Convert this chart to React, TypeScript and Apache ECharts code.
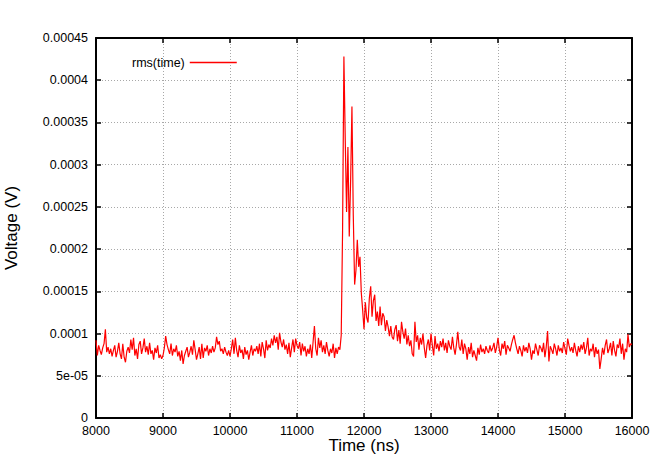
import React, { useEffect, useRef } from "react";
import * as echarts from "echarts";

// Time axis (ns): samples every 20 ns from 8000 to 16000
const tStart = 8000;
const tStep = 20;

// rms voltage, in units of 1e-5 V
const rmsE5: number[] = [
  9.2, 7.4, 8.6, 8.0, 7.5, 8.3, 8.8, 10.5, 7.8, 8.4,
  7.6, 8.2, 7.3, 8.0, 8.6, 7.2, 7.9, 8.9, 7.6, 7.0,
  8.8, 7.2, 6.6, 7.9, 8.4, 7.7, 9.3, 8.1, 9.5, 7.4,
  8.2, 7.0, 8.7, 9.1, 7.6, 8.3, 9.4, 7.8, 8.5, 7.5,
  8.9, 7.6, 8.0, 6.9, 8.3, 7.7, 8.6, 7.1, 7.5, 7.0,
  7.4, 8.3, 9.7, 8.7, 8.1, 7.6, 8.8, 7.4, 8.2, 7.8,
  8.6, 7.3, 7.9, 6.8, 8.0, 6.4, 7.4, 7.9, 8.4, 7.2,
  7.8, 8.5, 7.5, 9.2, 8.1, 6.9, 7.6, 8.4, 7.0, 8.8,
  7.1, 8.3, 7.9, 8.6, 7.4, 8.2, 7.7, 8.5, 7.8, 8.3,
  9.6, 8.7, 9.1, 7.9, 8.2, 7.6, 8.4, 7.8, 7.4, 8.0,
  7.3, 8.2, 9.3, 7.6, 9.5, 8.0, 7.2, 8.6, 7.7, 8.1,
  7.0, 8.4, 7.5, 8.0, 6.9, 7.8, 8.6, 7.4, 8.2, 7.9,
  8.5, 7.6, 8.8, 7.3, 9.0, 8.2, 7.1, 9.2, 8.0, 8.7,
  8.3, 9.4, 8.6, 9.8, 8.9, 9.6, 8.1, 10.1, 9.0, 8.4,
  9.3, 8.1, 8.7, 7.6, 8.9, 7.2, 8.3, 9.3, 7.8, 9.4,
  8.6, 8.2, 9.0, 7.4, 8.8, 7.9, 8.5, 7.3, 8.2, 7.6,
  8.7, 7.1, 9.0, 10.9, 8.2, 7.4, 9.5, 8.3, 9.2, 7.8,
  8.6, 7.6, 9.0, 8.0, 7.3, 8.2, 7.7, 8.8, 7.1, 8.3,
  7.6, 8.4, 8.1, 9.8, 22.0, 42.8, 33.0, 24.4, 32.1, 21.5,
  28.0, 36.9, 24.0, 15.8, 17.5, 21.1, 17.9, 19.1, 14.8, 12.8,
  10.5, 13.7, 11.9, 11.3, 14.2, 15.6, 12.0, 13.9, 14.6, 11.5,
  12.6, 10.9, 13.2, 11.0, 12.4, 12.0, 10.3, 11.6, 10.8, 9.7,
  10.9, 9.6, 9.3, 10.5, 11.0, 9.1, 10.4, 8.8, 11.4, 10.2,
  9.4, 10.6, 8.7, 9.8, 8.5, 9.2, 7.6, 7.3, 11.4, 9.0,
  9.8, 8.1, 9.5, 8.7, 10.0, 8.3, 7.1, 8.6, 9.3, 8.0,
  10.0, 8.6, 7.4, 9.7, 8.2, 8.8, 7.9, 9.1, 8.4, 9.4,
  8.0, 8.9, 7.7, 9.2, 8.5, 8.1, 9.6, 8.3, 7.5, 8.7,
  10.2, 8.4, 8.0, 9.3, 7.6, 8.8, 8.2, 6.9, 8.4, 7.6,
  8.9, 7.2, 8.0, 7.4, 6.8, 8.3, 7.5, 8.7, 7.8, 8.2,
  7.6, 8.5, 8.0, 7.7, 8.6, 7.9, 8.3, 8.9, 7.7, 8.4,
  9.5, 8.1, 7.4, 8.8, 8.2, 9.1, 7.5, 8.6, 8.3, 7.9,
  8.7, 9.3, 9.8, 8.9, 8.2, 7.6, 8.5, 8.0, 7.3, 8.6,
  7.9, 8.4, 7.7, 8.9, 8.2, 6.9, 8.0, 7.6, 8.8, 8.1,
  7.4, 8.6, 8.3, 7.8, 8.9, 7.2, 8.4, 10.3, 6.7, 8.5,
  8.1, 7.6, 8.8, 8.2, 7.4, 8.6, 7.9, 8.3, 7.7, 9.0,
  8.2, 7.5, 9.4, 8.6, 7.9, 8.4, 7.7, 8.9, 8.0, 7.3,
  8.5, 7.8, 8.7, 8.1, 9.0, 7.6, 8.3, 9.5, 7.4, 8.2,
  7.9, 8.8, 7.2, 8.4, 7.6, 8.1, 5.8, 7.0, 8.3, 7.5,
  8.6, 9.3, 7.7, 8.2, 8.9, 7.4, 9.1, 8.0, 7.3, 8.7,
  8.3, 9.4, 7.6, 8.8, 6.9, 8.2, 7.8, 9.9, 8.4, 8.8,
  8.7,
];

const xTicks = [8000, 9000, 10000, 11000, 12000, 13000, 14000, 15000, 16000];
const yTickLabels = [
  "0", "5e-05", "0.0001", "0.00015", "0.0002",
  "0.00025", "0.0003", "0.00035", "0.0004", "0.00045",
];
const yStep = 0.00005;
const seriesName = "rms(time)";

const FONT = "'Liberation Sans', Arial, Helvetica, sans-serif";

export default function App() {
  const ref = useRef<HTMLDivElement>(null);

  useEffect(() => {
    if (!ref.current) return;
    const chart = echarts.init(ref.current, undefined, { renderer: "svg" });
    const data = rmsE5.map((v, i) => [tStart + i * tStep, v * 1e-5]);
    const xMin = xTicks[0];
    const xMax = xTicks[xTicks.length - 1];
    const xInt = xTicks[1] - xTicks[0];
    const yMax = yStep * (yTickLabels.length - 1);
    const yFmt = (v: number) => {
      const idx = Math.round(v / yStep);
      return yTickLabels[idx] ?? "";
    };
    const xFmt = (v: number) => String(Math.round(v));
    const gridLine = {
      show: true,
      lineStyle: { color: "#a8a8a8", width: 1, type: [1, 2] as number[] },
    };
    const axisLine = { show: true, onZero: false, lineStyle: { color: "#000", width: 2 } };
    const axisTick = { show: true, inside: true, length: 5, lineStyle: { color: "#000", width: 1.5 } };

    chart.setOption({
      animation: false,
      backgroundColor: "#fff",
      textStyle: { fontFamily: FONT },
      grid: {
        left: 96,
        right: 22,
        top: 38,
        bottom: 40,
        containLabel: false,
        outerBoundsMode: "none",
      },
      legend: {
        show: true,
        data: [seriesName],
        left: 127,
        top: 51,
        align: "right",
        icon: "rect",
        itemWidth: 47,
        itemHeight: 1.5,
        textStyle: { fontFamily: FONT, fontSize: 12.5, color: "#000" },
      },
      xAxis: [
        {
          type: "value",
          min: xMin,
          max: xMax,
          interval: xInt,
          position: "bottom",
          name: "Time (ns)",
          nameLocation: "middle",
          nameGap: 19,
          nameMoveOverlap: false,
          nameTextStyle: { fontFamily: FONT, fontSize: 17, color: "#000" },
          axisLine,
          axisTick,
          axisLabel: { color: "#000", fontSize: 12.5, fontFamily: FONT, margin: 6, formatter: xFmt },
          splitLine: gridLine,
        },
        {
          type: "value",
          min: xMin,
          max: xMax,
          interval: xInt,
          position: "top",
          axisLine,
          axisTick,
          axisLabel: { show: false },
          splitLine: { show: false },
        },
      ],
      yAxis: [
        {
          type: "value",
          min: 0,
          max: yMax,
          interval: yStep,
          position: "left",
          name: "Voltage (V)",
          nameLocation: "middle",
          nameGap: 76,
          nameMoveOverlap: false,
          nameTextStyle: { fontFamily: FONT, fontSize: 17, color: "#000" },
          axisLine,
          axisTick,
          axisLabel: { color: "#000", fontSize: 12.5, fontFamily: FONT, margin: 8, formatter: yFmt },
          splitLine: gridLine,
        },
        {
          type: "value",
          min: 0,
          max: yMax,
          interval: yStep,
          position: "right",
          axisLine,
          axisTick,
          axisLabel: { show: false },
          splitLine: { show: false },
        },
      ],
      series: [
        {
          name: seriesName,
          type: "line",
          xAxisIndex: 0,
          yAxisIndex: 0,
          data,
          showSymbol: false,
          symbol: "none",
          lineStyle: { color: "#ff0000", width: 1.2 },
          itemStyle: { color: "#ff0000" },
          z: 3,
        },
      ],
    });
    return () => chart.dispose();
  }, []);

  return (
    <div
      ref={ref}
      style={{ position: "fixed", left: 0, top: 0, width: 654, height: 458, background: "#fff" }}
    />
  );
}
